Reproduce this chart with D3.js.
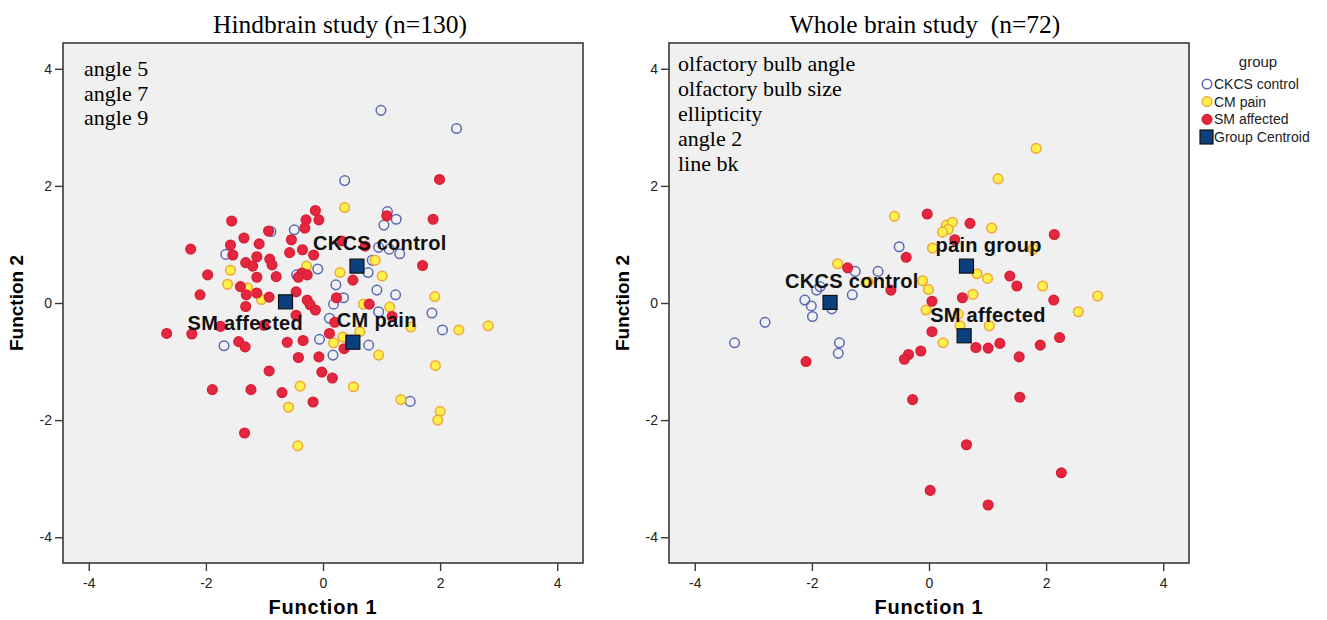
<!DOCTYPE html>
<html>
<head>
<meta charset="utf-8">
<script src="https://cdn.jsdelivr.net/npm/d3@7"></script>
<style>
  body { margin: 0; background: #fff; }
  svg { display: block; }
  .serif { font-family: "Liberation Serif", "Times New Roman", serif; }
  .sans { font-family: "Liberation Sans", Arial, sans-serif; }
</style>
</head>
<body>
<svg id="chart" width="1327" height="620"></svg>
<script>
/* values */
var tickVals = [-4, -2, 0, 2, 4];
var groups = ["CKCS control", "CM pain", "SM affected"];

var hindVars = ["angle 5", "angle 7", "angle 9"];
var hindControl = [[0.99,3.29],[2.28,2.98],[-0.89,1.22],[-0.49,1.25],[-1.66,0.83],[-0.45,0.48],[-0.09,0.58],
  [0.11,-0.26],[-1.69,-0.73],[-0.06,-0.62],[0.37,2.09],[1.10,1.56],[1.25,1.43],[1.04,1.33],[0.95,0.95],
  [1.13,0.92],[1.31,0.84],[0.84,0.73],[0.77,0.52],[0.22,0.31],[0.92,0.22],[1.24,0.14],[0.18,-0.02],
  [0.35,0.09],[0.95,-0.15],[1.86,-0.17],[2.04,-0.46],[0.78,-0.72],[0.17,-0.89],[1.49,-1.68]];
var hindPain = [[-1.58,0.56],[-0.28,0.63],[-1.63,0.32],[-1.29,0.26],[-1.05,0.06],[0.37,1.63],[0.89,0.73],
  [0.29,0.52],[1.01,0.46],[1.91,0.11],[0.69,-0.02],[1.14,-0.07],[1.50,-0.41],[2.32,-0.46],[2.82,-0.39],
  [0.18,-0.68],[0.34,-0.58],[0.63,-0.49],[0.95,-0.89],[1.92,-1.07],[-0.39,-1.42],[0.52,-1.43],[-0.59,-1.78],
  [1.33,-1.65],[2.0,-1.85],[1.96,-2.0],[-0.43,-2.44]];
var hindSM = [[-0.13,1.58],[-0.29,1.42],[-0.07,1.42],[-1.56,1.40],[-0.93,1.23],[-0.31,1.28],[-1.35,1.11],
  [-0.54,1.08],[-1.09,1.01],[-2.26,0.92],[-1.58,0.99],[-1.54,0.82],[-0.57,0.86],[-0.35,0.91],[-0.16,0.82],
  [-1.13,0.79],[-1.32,0.69],[-1.20,0.63],[-0.91,0.75],[-0.87,0.65],[-1.97,0.48],[-1.13,0.44],[-0.80,0.45],
  [-0.36,0.51],[-0.27,0.48],[-0.42,0.44],[-1.41,0.28],[-1.31,0.14],[-2.10,0.14],[-1.13,0.17],[-0.92,0.10],
  [-0.46,0.19],[-0.27,0.05],[-0.22,-0.03],[-0.13,-0.12],[-1.32,-0.06],[-0.46,-0.21],[-2.67,-0.52],[-2.24,-0.53],
  [-1.01,-0.38],[-1.75,-0.40],[-1.44,-0.66],[-1.33,-0.75],[-0.61,-0.67],[-0.34,-0.64],[0.11,-0.52],
  [1.99,2.11],[1.09,1.49],[1.88,1.43],[0.32,1.06],[0.72,0.97],[1.70,0.64],[0.51,0.39],[0.23,0.09],
  [0.79,-0.02],[1.18,-0.23],[0.20,-0.33],[0.36,-0.78],[-0.42,-0.93],[-0.07,-0.92],[-0.92,-1.16],[-0.02,-1.18],
  [0.16,-1.28],[-1.89,-1.48],[-1.23,-1.48],[-0.70,-1.53],[-0.17,-1.69],[-1.34,-2.22]];
var hindCentroids = [[0.58,0.63],[0.51,-0.67],[-0.64,0.02]];
var hindCentroidNames = ["CKCS control", "CM pain", "SM affected"];

var wholeVars = ["olfactory bulb angle", "olfactory bulb size", "ellipticity", "angle 2", "line bk"];
var wholeControl = [[-0.51,0.96],[-1.26,0.54],[-0.87,0.54],[-1.86,0.28],[-1.92,0.22],[-1.31,0.14],[-2.12,0.05],
  [-2.01,-0.05],[-1.66,-0.10],[-1.99,-0.23],[-2.80,-0.33],[-3.32,-0.68],[-1.53,-0.68],[-1.55,-0.86]];
var wholePain = [[1.83,2.64],[-0.59,1.48],[-1.56,0.67],[-1.04,0.36],[1.18,2.12],[0.30,1.33],[0.40,1.38],
  [0.33,1.26],[0.23,1.21],[1.07,1.28],[0.06,0.94],[1.78,0.92],[0.82,0.50],[1.00,0.42],[1.94,0.29],[2.88,0.12],
  [-0.11,0.38],[-0.01,0.23],[0.75,0.15],[-0.05,-0.12],[2.55,-0.15],[0.50,-0.19],[0.53,-0.39],[1.03,-0.39],[0.24,-0.68]];
var wholeSM = [[-0.39,0.78],[-1.39,0.60],[-0.65,0.22],[-0.03,1.52],[0.70,1.36],[2.14,1.17],[0.44,1.08],
  [1.38,0.46],[1.50,0.29],[0.57,0.09],[2.13,0.05],[0.05,0.03],[0.05,-0.49],[2.23,-0.59],[0.80,-0.76],
  [1.01,-0.77],[1.21,-0.69],[1.90,-0.72],[-0.14,-0.82],[-0.35,-0.88],[-0.42,-0.96],[1.54,-0.92],[-2.10,-1.00],
  [-0.28,-1.65],[1.55,-1.61],[0.64,-2.42],[2.26,-2.90],[0.02,-3.20],[1.01,-3.45]];
var wholeCentroids = [[-1.69,0.01],[0.64,0.63],[0.60,-0.56]];
var wholeCentroidNames = ["CKCS control", "pain group", "SM affected"];

/* styles */
var dom = [-4.44, 4.44];
var style = {
  control: { fill: "none", stroke: "#5b6ab4" },
  pain: { fill: "#fff04a", stroke: "#f0a638" },
  sm: { fill: "#e5263f", stroke: "#d81f36" }
};
var centroidFill = "#0b3f7d";

var svg = d3.select("#chart");

function panel(opt) {
  var x = d3.scaleLinear().domain(dom).range([opt.left, opt.left + 520]);
  var y = d3.scaleLinear().domain(dom).range([563, 43]);
  var g = svg.append("g");

  // title
  g.append("text").attr("class", "serif")
    .attr("x", opt.titleX).attr("y", 33)
    .attr("text-anchor", "middle").attr("font-size", 25.5)
    .style("white-space", "pre")
    .text(opt.title);

  // plot background + frame
  g.append("rect")
    .attr("x", x(dom[0])).attr("y", y(dom[1]))
    .attr("width", x(dom[1]) - x(dom[0])).attr("height", y(dom[0]) - y(dom[1]))
    .attr("fill", "#f0f0f0").attr("stroke", "#3a3a3a").attr("stroke-width", 1.6);

  var fmt = function (d) { return String(d); };
  var xa = g.append("g").attr("class", "sans")
    .attr("transform", "translate(0,563)")
    .call(d3.axisBottom(x).tickValues(tickVals).tickSize(8).tickSizeOuter(0).tickFormat(fmt));
  var ya = g.append("g").attr("class", "sans")
    .attr("transform", "translate(" + x(dom[0]) + ",0)")
    .call(d3.axisLeft(y).tickValues(tickVals).tickSize(8).tickSizeOuter(0).tickFormat(fmt));
  [xa, ya].forEach(function (a) {
    a.select(".domain").remove();
    a.selectAll("line").attr("stroke", "#3a3a3a").attr("stroke-width", 1.4);
    a.selectAll("text").attr("font-size", 14).attr("fill", "#222")
      .attr("font-family", "Liberation Sans, Arial, sans-serif");
  });
  xa.selectAll("text").attr("dy", "1.0em");

  // axis titles
  g.append("text").attr("class", "sans")
    .attr("x", x(0)).attr("y", 614).attr("text-anchor", "middle")
    .attr("font-size", 20).attr("font-weight", "bold")
    .attr("letter-spacing", 0.8).text("Function 1");
  g.append("text").attr("class", "sans")
    .attr("transform", "translate(" + (opt.left - 40) + "," + y(0) + ") rotate(-90)")
    .attr("text-anchor", "middle")
    .attr("font-size", 19).attr("font-weight", "bold").text("Function 2");

  // variable list
  g.append("g").selectAll("text").data(opt.vars).join("text")
    .attr("class", "serif")
    .attr("x", x(dom[0]) + opt.varsDx)
    .attr("y", function (d, i) { return opt.varsY + i * opt.varsStep; })
    .attr("font-size", 22).text(function (d) { return d; });

  // points
  var sets = [[opt.control, style.control], [opt.pain, style.pain], [opt.sm, style.sm]];
  sets.forEach(function (s) {
    g.append("g").selectAll("circle").data(s[0]).join("circle")
      .attr("cx", function (d) { return x(d[0]); })
      .attr("cy", function (d) { return y(d[1]); })
      .attr("r", 4.8)
      .attr("fill", s[1].fill)
      .attr("stroke", s[1].stroke)
      .attr("stroke-width", 1.5);
  });

  // centroids
  g.append("g").selectAll("rect").data(opt.centroids).join("rect")
    .attr("x", function (d) { return x(d[0]) - 7; })
    .attr("y", function (d) { return y(d[1]) - 7; })
    .attr("width", 14).attr("height", 14)
    .attr("fill", centroidFill).attr("stroke", "#111").attr("stroke-width", 1.2);

  g.append("g").selectAll("text").data(opt.centroids).join("text")
    .attr("class", "sans")
    .attr("x", function (d, i) { return x(d[0]) + opt.labelOff[i][0]; })
    .attr("y", function (d, i) { return y(d[1]) + opt.labelOff[i][1]; })
    .attr("font-size", 20).attr("font-weight", "bold").attr("fill", "#111")
    .attr("letter-spacing", 0.3)
    .text(function (d, i) { return opt.names[i]; });
}

panel({
  left: 63, titleX: 340, title: "Hindbrain study (n=130)",
  vars: hindVars, varsDx: 21, varsY: 76, varsStep: 24.5,
  control: hindControl, pain: hindPain, sm: hindSM,
  centroids: hindCentroids, names: hindCentroidNames,
  labelOff: [[-44, -16], [-16, -15], [-98, 28]]
});

panel({
  left: 669, titleX: 925, title: "Whole brain study  (n=72)",
  vars: wholeVars, varsDx: 9, varsY: 71, varsStep: 25,
  control: wholeControl, pain: wholePain, sm: wholeSM,
  centroids: wholeCentroids, names: wholeCentroidNames,
  labelOff: [[-45, -14], [-31, -14], [-34, -14]]
});

// legend
var leg = svg.append("g").attr("class", "sans");
leg.append("text").attr("x", 1258).attr("y", 67).attr("text-anchor", "middle")
  .attr("font-size", 15).attr("fill", "#222").text("group");
var legItems = groups.concat(["Group Centroid"]);
var legStyles = [style.control, style.pain, style.sm];
var legY = d3.scalePoint().domain(legItems).range([84, 137]);
legItems.forEach(function (name, i) {
  var cy = legY(name);
  if (i < 3) {
    leg.append("circle").attr("cx", 1207).attr("cy", cy).attr("r", 4.8)
      .attr("fill", legStyles[i].fill).attr("stroke", legStyles[i].stroke).attr("stroke-width", 1.5);
  } else {
    leg.append("rect").attr("x", 1200).attr("y", cy - 7).attr("width", 13).attr("height", 14)
      .attr("fill", centroidFill).attr("stroke", "#111").attr("stroke-width", 1.2);
  }
  leg.append("text").attr("x", 1214).attr("y", cy + 5)
    .attr("font-size", 14).attr("fill", "#222").text(name);
});
</script>
</body>
</html>
